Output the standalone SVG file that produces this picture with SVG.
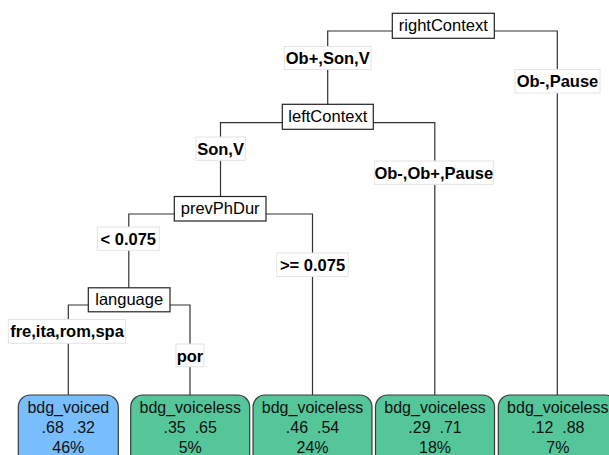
<svg xmlns="http://www.w3.org/2000/svg" width="609" height="455" viewBox="0 0 609 455">
<style>
.split rect{fill:#fff;stroke:#222;stroke-width:1.2}
.split text{font-family:"Liberation Sans",Arial,sans-serif;font-size:16.5px;fill:#000;text-anchor:middle}
.lab rect{fill:#fff;stroke:#e4e4e4;stroke-width:1}
.lab text{font-family:"Liberation Sans",Arial,sans-serif;font-size:16.5px;font-weight:bold;fill:#000;text-anchor:middle}
.leaf rect{stroke:#3a3a3a;stroke-width:1.2}
.leaf text{font-family:"Liberation Sans",Arial,sans-serif;font-size:16px;fill:#111;text-anchor:middle;white-space:pre}
.blue{fill:#78BEFF}
.green{fill:#54C69A}
#connectors path{fill:none;stroke:#333;stroke-width:1.2}
</style>
<rect width="609" height="455" fill="#fff"/>
<g id="connectors">
<path d="M392,31 H327.7 V104.3"/>
<path d="M494,31 H557.3 V395"/>
<path d="M282.3,122.7 H220.5 V196.5"/>
<path d="M373.3,122.7 H434.8 V395"/>
<path d="M174.3,214 H128.8 V287.8"/>
<path d="M266,214 H312.5 V395"/>
<path d="M88.3,305 H68.3 V395"/>
<path d="M170,305 H190 V395"/>
</g>
<g id="lab-obsonv" class="lab"><rect x="284.3" y="46.5" width="86.7" height="23"/><text x="327.7" y="64">Ob+,Son,V</text></g>
<g id="lab-obpause" class="lab"><rect x="515" y="69.5" width="85" height="23.5"/><text x="557.5" y="87">Ob-,Pause</text></g>
<g id="lab-sonv" class="lab"><rect x="196" y="137" width="49.3" height="23.3"/><text x="220.6" y="154.5">Son,V</text></g>
<g id="lab-obobpause" class="lab"><rect x="374.3" y="161" width="119" height="23.3"/><text x="433.8" y="178.5">Ob-,Ob+,Pause</text></g>
<g id="lab-lt" class="lab"><rect x="97.3" y="227" width="62" height="23.3"/><text x="128.3" y="244.5">&lt; 0.075</text></g>
<g id="lab-ge" class="lab"><rect x="276.7" y="253" width="71.6" height="23.5"/><text x="312.5" y="270.5">&gt;= 0.075</text></g>
<g id="lab-fre" class="lab"><rect x="8.3" y="319.5" width="117.4" height="23.8"/><text x="67" y="337.3">fre,ita,rom,spa</text></g>
<g id="lab-por" class="lab"><rect x="176" y="344" width="28" height="22.7"/><text x="190" y="361.5">por</text></g>
<g id="n-rightContext" class="split"><rect x="392.3" y="13.3" width="102" height="25"/><text x="443.3" y="31.2">rightContext</text></g>
<g id="n-leftContext" class="split"><rect x="282.3" y="104.3" width="91" height="25"/><text x="327.8" y="122.2">leftContext</text></g>
<g id="n-prevPhDur" class="split"><rect x="174.3" y="196.5" width="91.7" height="24.5"/><text x="220.2" y="214.3">prevPhDur</text></g>
<g id="n-language" class="split"><rect x="88.3" y="287.8" width="81.7" height="24"/><text x="129.2" y="305.4">language</text></g>
<g id="leaf1" class="leaf"><rect class="blue" x="18.3" y="395" width="100" height="75" rx="12"/><text x="68.3" y="413.3">bdg_voiced</text><text x="68.3" y="433.3" xml:space="preserve">.68  .32</text><text x="68.3" y="452.6">46%</text></g>
<g id="leaf2" class="leaf"><rect class="green" x="130.7" y="395" width="119" height="75" rx="12"/><text x="190.2" y="413.3">bdg_voiceless</text><text x="190.2" y="433.3" xml:space="preserve">.35  .65</text><text x="190.2" y="452.6">5%</text></g>
<g id="leaf3" class="leaf"><rect class="green" x="253" y="395" width="119" height="75" rx="12"/><text x="312.5" y="413.3">bdg_voiceless</text><text x="312.5" y="433.3" xml:space="preserve">.46  .54</text><text x="312.5" y="452.6">24%</text></g>
<g id="leaf4" class="leaf"><rect class="green" x="375.5" y="395" width="119" height="75" rx="12"/><text x="435" y="413.3">bdg_voiceless</text><text x="435" y="433.3" xml:space="preserve">.29  .71</text><text x="435" y="452.6">18%</text></g>
<g id="leaf5" class="leaf"><rect class="green" x="498.3" y="395" width="119" height="75" rx="12"/><text x="557.8" y="413.3">bdg_voiceless</text><text x="557.8" y="433.3" xml:space="preserve">.12  .88</text><text x="557.8" y="452.6">7%</text></g>
</svg>
